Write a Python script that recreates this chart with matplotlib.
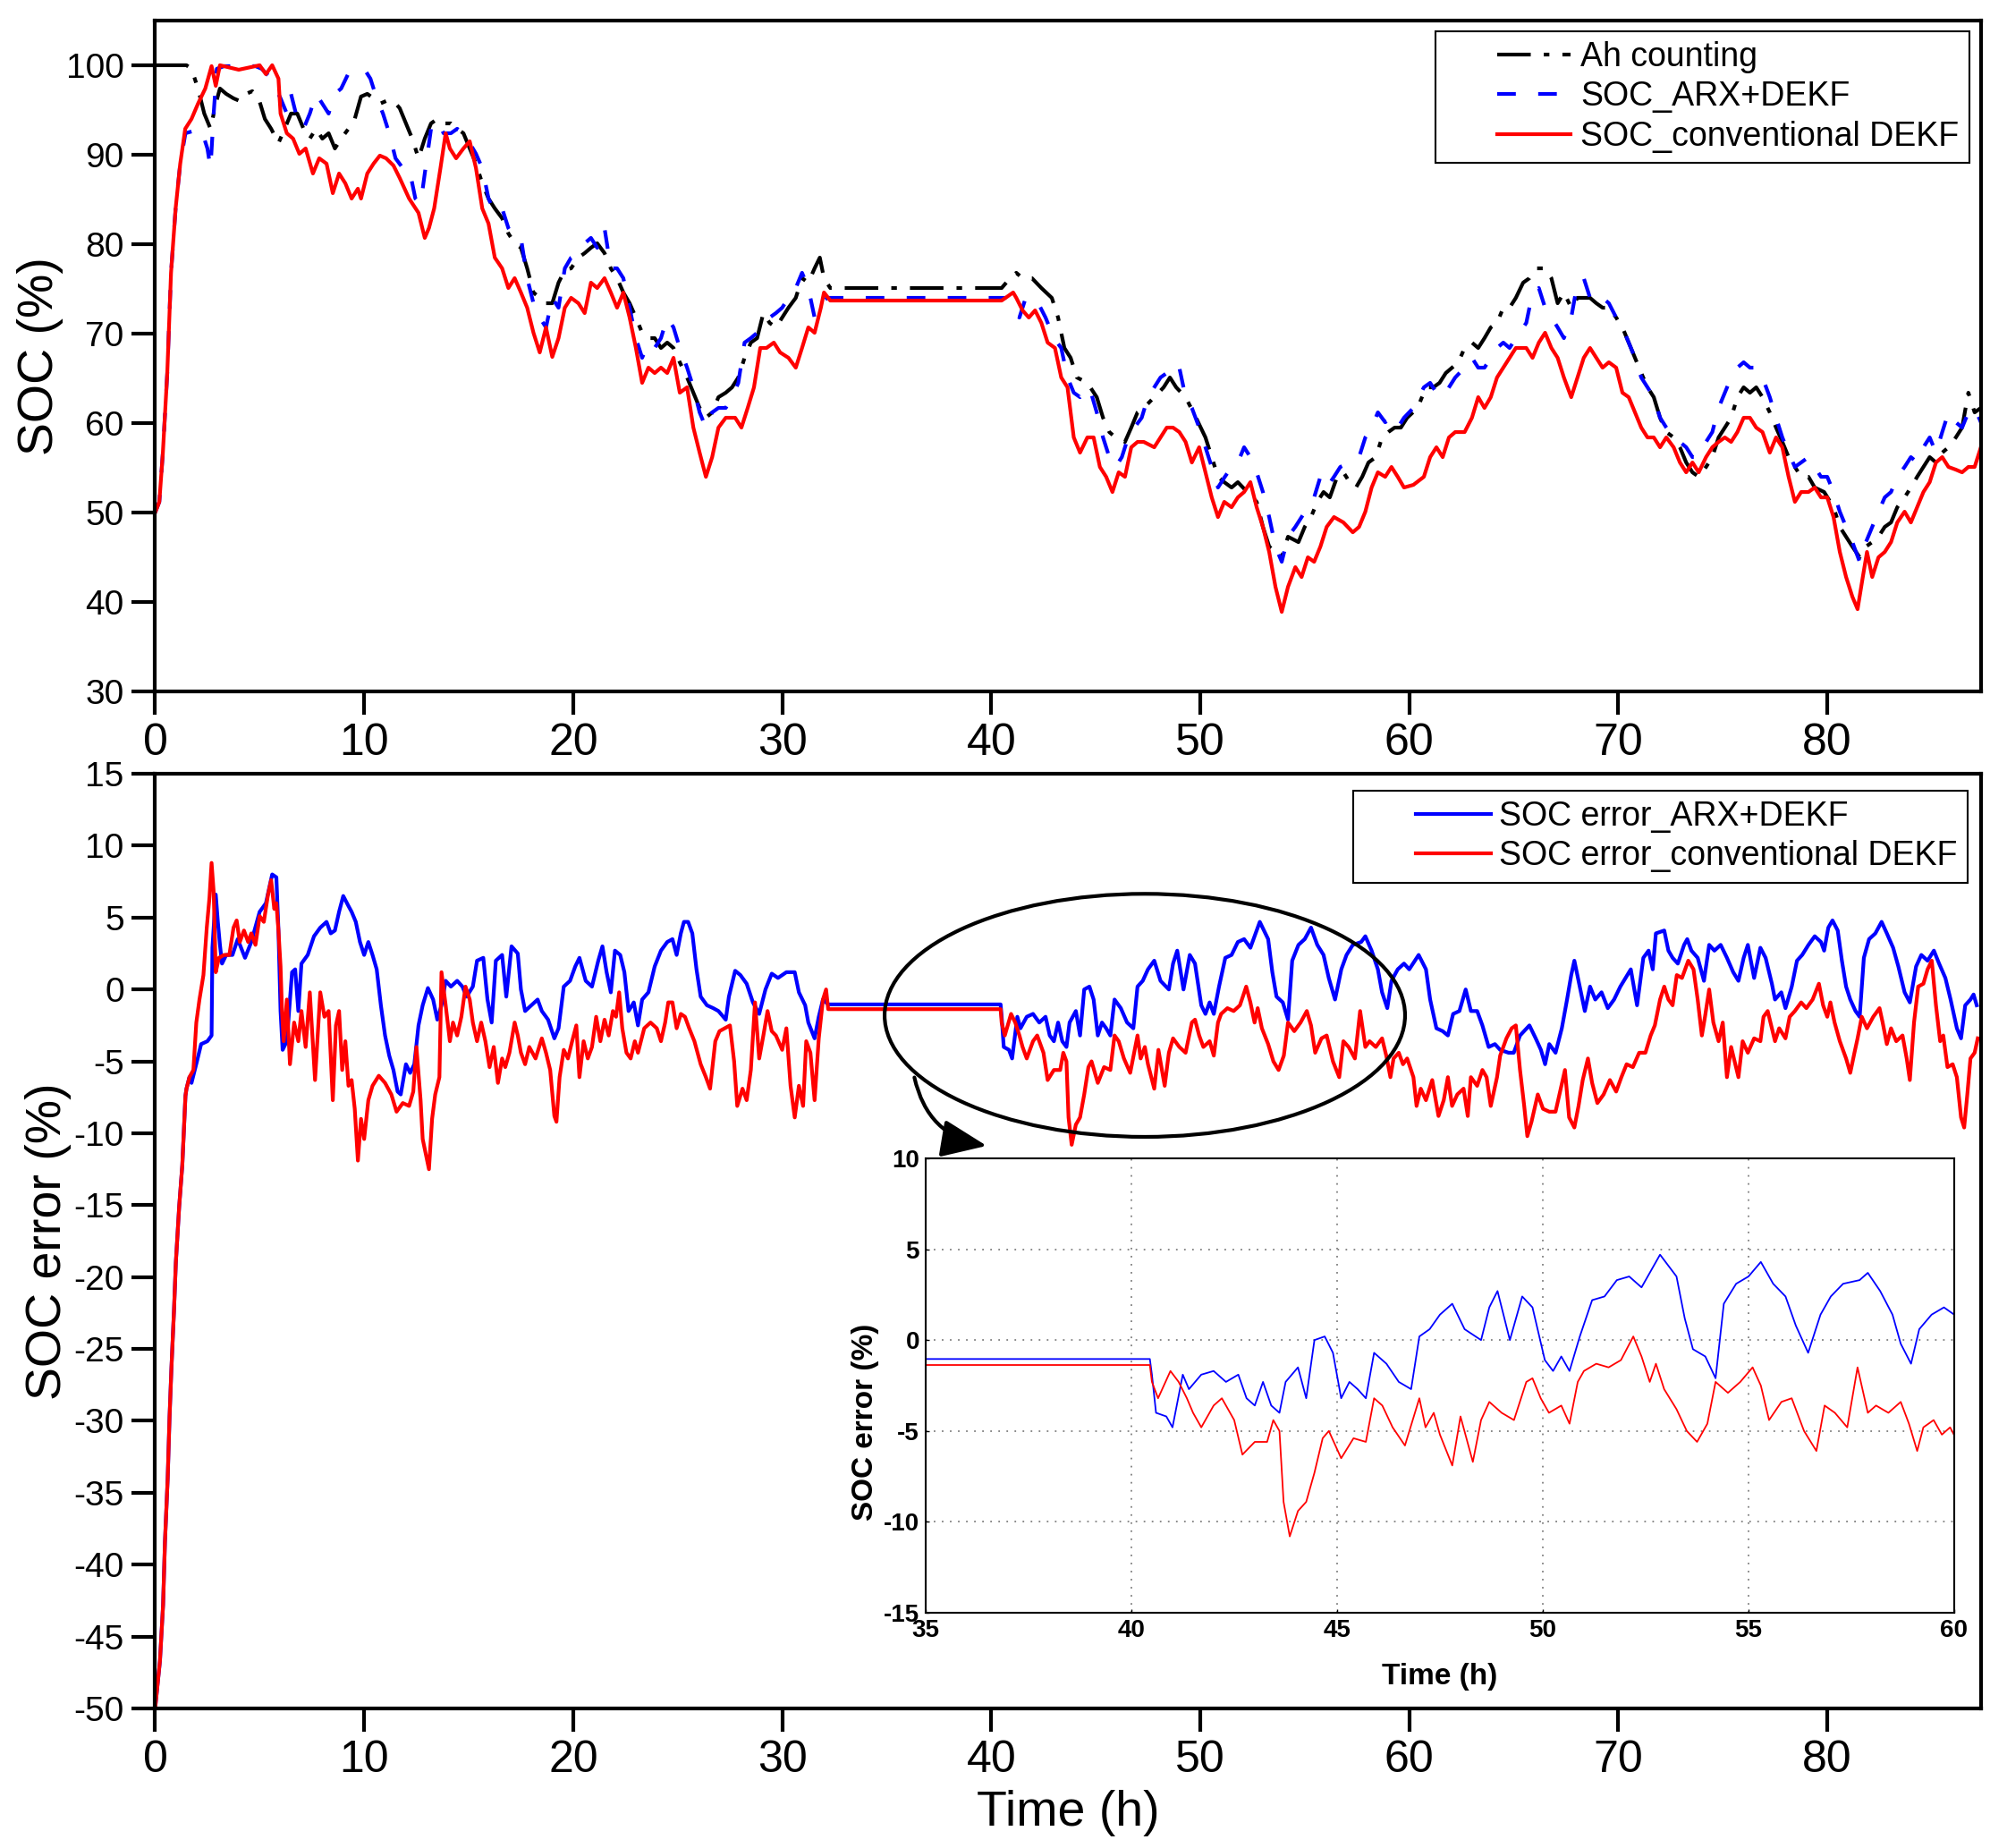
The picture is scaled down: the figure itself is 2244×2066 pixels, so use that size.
import numpy as np
import matplotlib
matplotlib.use("Agg")
import matplotlib.pyplot as plt
from matplotlib.patches import Ellipse, FancyArrowPatch
from matplotlib.legend_handler import HandlerLine2D

plt.rcParams['font.family'] = ['Liberation Sans', 'DejaVu Sans']
plt.rcParams['axes.unicode_minus'] = False

# ---- top panel: SOC (%) ----
ah_t = [0, 1.5, 1.74, 2.05, 2.35, 2.65, 2.9, 3.1, 3.4, 3.75, 4.05, 4.35, 4.65, 4.95, 5.25, 5.55, 5.9,
        6.2, 6.5, 6.8, 7.1, 7.4, 7.7, 8.0, 8.3, 8.6, 8.9, 9.25, 9.55, 9.85, 10.15, 10.45, 10.75, 11.05,
        11.4, 11.7, 12.0, 12.3, 12.6, 12.9, 13.2, 13.5, 13.8, 14.15, 14.45, 14.75, 15.05, 15.35, 15.65,
        15.95, 16.25, 16.6, 16.9, 17.2, 17.5, 17.8, 18.1, 18.4, 18.7, 19.0, 19.3, 19.6, 19.9, 20.25,
        20.55, 20.85, 21.15, 21.5, 21.8, 22.1, 22.4, 22.7, 23.0, 23.3, 23.6, 23.9, 24.2, 24.5, 24.8,
        25.1, 25.45, 25.75, 26.05, 26.35, 26.65, 26.95, 27.3, 27.6, 27.9, 28.2, 28.5, 28.8, 29.1, 29.4,
        29.7, 30.0, 30.3, 30.65, 30.95, 31.25, 31.55, 31.8, 32.0, 32.3, 40.5, 40.9, 41.2, 41.5, 41.95,
        42.4, 42.9, 43.2, 43.5, 43.8, 44.1, 44.6, 45.05, 45.35, 45.65, 45.95, 46.4, 46.7, 47.0, 47.3,
        47.8, 48.25, 48.55, 48.85, 49.3, 49.8, 50.25, 50.55, 50.85, 51.15, 51.5, 51.8, 52.25, 52.7,
        53.0, 53.3, 53.6, 53.9, 54.2, 54.7, 55.0, 55.3, 55.6, 55.9, 56.2, 56.55, 56.85, 57.15, 57.45,
        57.75, 58.05, 58.4, 58.7, 59.0, 59.3, 59.6, 59.9, 60.4, 60.8, 61.15, 61.45, 61.75, 62.05, 62.35,
        62.65, 63.0, 63.3, 63.6, 63.9, 64.2, 64.5, 64.8, 65.1, 65.45, 65.75, 66.05, 66.5, 66.8, 67.1,
        67.4, 67.75, 68.05, 68.35, 68.65, 68.95, 69.25, 69.55, 69.9, 70.2, 70.5, 70.8, 71.1, 71.4, 71.7,
        72.0, 72.3, 72.65, 72.95, 73.25, 73.55, 73.85, 74.2, 74.5, 74.8, 75.1, 75.4, 75.7, 76.0, 76.3,
        76.6, 76.9, 77.25, 77.55, 77.85, 78.15, 78.45, 78.75, 79.1, 79.4, 79.85, 80.3, 80.6, 80.9, 81.2,
        81.55, 81.85, 82.15, 82.45, 82.75, 83.05, 83.35, 83.7, 84.0, 84.3, 84.6, 84.9, 85.2, 85.5, 85.8,
        86.15, 86.45, 86.75, 87.05, 87.35]
ah_v = [100, 100, 99.6, 97.4, 94.6, 92.9, 95.7, 97.4, 96.8, 96.3, 96.0, 96.8, 97.1, 96.3, 94.0, 92.9, 91.3,
        92.9, 94.6, 94.6, 92.9, 91.8, 92.9, 91.8, 92.4, 90.7, 91.8, 92.9, 94.0, 96.5, 96.8, 96.3, 95.7, 96.0,
        96.0, 95.2, 93.5, 91.8, 89.6, 91.8, 93.5, 94.0, 93.5, 93.5, 92.9, 92.4, 90.7, 89.0, 86.8,
        85.1, 84.0, 82.9, 81.2, 80.1, 79.6, 77.3, 74.6, 74.0, 73.4, 73.4, 75.7, 77.1, 77.3, 78.5,
        79.0, 79.6, 80.1, 79.0, 77.3, 76.2, 74.6, 73.4, 71.8, 70.1, 69.5, 69.5, 68.4, 69.0, 68.4,
        66.8, 65.1, 63.4, 61.7, 60.6, 61.2, 62.9, 63.4, 64.0, 65.1, 67.3, 69.0, 69.5, 72.3, 71.2,
        70.7, 71.8, 72.9, 74.0, 76.2, 75.7, 77.3, 78.5, 76.2, 75.1, 75.1, 76.2, 76.8, 76.2, 76.2,
        75.1, 74.0, 71.8, 68.4, 67.3, 65.1, 64.5, 62.9, 60.6, 59.0, 58.4, 57.9, 59.5, 61.2, 61.7,
        62.9, 64.0, 65.1, 64.0, 62.9, 60.6, 58.4, 56.2, 54.0, 53.4, 52.8, 53.4, 52.3, 51.2,
        48.4, 46.2, 45.6, 45.0, 47.3, 46.7, 48.4, 49.5, 51.2, 52.3, 51.7, 54.0, 54.5, 53.4, 52.8,
        54.0, 55.6, 56.2, 58.4, 59.0, 59.5, 59.5, 60.6, 61.7, 64.0, 64.0, 64.5, 65.6, 66.2, 66.8,
        68.4, 69.0, 68.4, 69.5, 70.7, 71.2, 72.9, 72.9, 74.0, 75.7, 76.2, 77.3, 77.3, 76.2, 73.4,
        74.6, 72.9, 74.0, 74.0, 74.0, 73.4, 72.9, 72.9, 71.8, 70.7, 69.0, 67.3, 65.6, 64.0, 62.9,
        60.6, 59.0, 58.4, 57.3, 55.6, 54.5, 54.0, 55.1, 56.2, 58.4, 59.5, 60.6, 62.9, 64.0, 63.4,
        64.0, 62.9, 61.2, 59.5, 57.9, 56.2, 55.1, 54.0, 54.0, 52.8, 52.3, 50.6, 48.4, 47.3, 46.2,
        45.0, 46.2, 46.7, 47.3, 48.4, 48.9, 50.6, 51.7, 52.8, 54.0, 55.1, 56.2, 55.6, 56.7, 57.3,
        58.4, 59.5, 63.4, 61.2, 61.7]

arx_t = [0, 0.2, 0.37, 0.58, 0.76, 0.98, 1.2, 1.45, 1.75, 2.2, 2.5, 2.65, 2.8, 2.95, 3.3, 3.9, 4.35, 4.8,
         5.1, 5.55, 6.0, 6.3, 6.5, 6.8, 7.1, 7.4, 7.7, 8.0, 8.3, 8.6, 8.9, 9.25, 9.55, 10.0, 10.3, 10.6,
         10.9, 11.2, 11.5, 11.85, 12.15, 12.45, 12.7, 12.9, 13.2, 13.5, 13.8, 14.15, 14.45, 14.75, 15.05,
         15.35, 15.65, 15.95, 16.25, 16.6, 16.9, 17.2, 17.5, 17.8, 18.1, 18.4, 18.7, 19.0, 19.3, 19.6,
         19.9, 20.25, 20.55, 20.85, 21.15, 21.5, 21.8, 22.1, 22.4, 22.7, 23.0, 23.3, 23.6, 23.9, 24.2,
         24.5, 24.8, 25.1, 25.45, 25.75, 26.05, 26.35, 26.65, 26.95, 27.3, 27.6, 27.9, 28.2, 28.5, 28.8,
         29.1, 29.4, 29.7, 30.0, 30.3, 30.65, 30.95, 31.25, 31.55, 31.85, 32.15, 40.5, 40.75, 41.05,
         41.35, 41.65, 41.95, 42.25, 42.6, 43.0, 43.35, 43.65, 43.95, 44.25, 44.7, 45.05, 45.35, 45.65,
         45.95, 46.25, 46.55, 46.85, 47.2, 47.5, 47.8, 48.1, 48.4, 48.7, 49.0, 49.3, 49.6, 49.95, 50.25,
         50.55, 50.85, 51.15, 51.5, 51.8, 52.1, 52.4, 52.7, 53.0, 53.3, 53.6, 53.9, 54.2, 54.55, 54.85,
         55.15, 55.45, 55.75, 56.05, 56.4, 56.7, 57.15, 57.6, 57.9, 58.2, 58.5, 58.85, 59.15, 59.45,
         59.75, 60.2, 60.7, 61.0, 61.3, 61.6, 61.9, 62.2, 62.65, 63.0, 63.3, 63.6, 63.9, 64.2, 64.5,
         64.8, 65.1, 65.6, 65.9, 66.2, 66.5, 66.8, 67.1, 67.4, 67.75, 68.05, 68.35, 68.65, 68.95, 69.25,
         69.55, 69.9, 70.2, 70.5, 70.8, 71.1, 71.4, 71.7, 72.0, 72.3, 72.65, 72.95, 73.25, 73.55, 73.85,
         74.2, 74.5, 74.8, 75.1, 75.4, 75.7, 76.0, 76.3, 76.6, 76.9, 77.25, 77.55, 77.85, 78.15, 78.45,
         78.75, 79.1, 79.4, 79.7, 80.0, 80.3, 80.6, 80.9, 81.2, 81.55, 81.85, 82.15, 82.45, 82.75, 83.05,
         83.35, 83.7, 84.0, 84.3, 84.6, 84.9, 85.2, 85.5, 85.8, 86.15, 86.45, 86.75, 87.05, 87.35]
arx_v = [50, 51.2, 56.7, 65.6, 76.8, 84.0, 89.0, 92.4, 92.6, 92.9, 90.7, 88.5, 94.6, 99.6, 99.9, 99.9, 99.9, 99.9,
         99.6, 98.5, 96.3, 94.6, 96.8, 94.0, 92.9, 94.6, 96.8, 95.7, 94.6, 96.8, 97.4, 99.1, 99.3, 99.6, 98.5, 96.3,
         94.6, 92.4, 89.6, 88.5, 88.5, 85.1, 84.5, 87.9, 92.9, 93.8, 92.4, 92.4, 92.9, 92.4, 91.3,
         90.1, 88.5, 85.1, 83.5, 84.0, 81.8, 80.7, 80.7, 76.2, 73.4, 71.8, 70.7, 74.0, 72.9, 77.3,
         78.5, 79.0, 80.1, 80.7, 79.6, 81.8, 77.3, 77.3, 76.2, 72.9, 69.5, 67.3, 69.0, 68.4, 69.5,
         71.8, 70.7, 68.4, 66.2, 64.0, 61.2, 59.5, 61.2, 61.7, 61.7, 62.9, 64.5, 69.0, 69.5, 70.1,
         71.2, 71.8, 72.3, 72.9, 74.0, 75.1, 76.8, 75.1, 71.8, 73.4, 74.0, 74.0, 74.0, 72.3,
         71.8, 74.0, 74.0, 73.4, 71.8, 69.5, 68.4, 65.1, 63.4, 62.9, 64.0, 61.2, 58.4, 56.2,
         55.1, 56.2, 58.4, 59.5, 60.6, 62.9, 64.0, 65.1, 65.6, 65.1, 66.2, 62.9, 61.7, 59.5, 57.3,
         55.1, 52.8, 53.9, 55.1, 55.6, 57.3, 56.2, 54.5, 52.3, 49.5, 46.2, 44.5, 47.3, 48.4, 49.5,
         50.6, 51.7, 54.0, 52.8, 54.0, 55.1, 55.6, 56.2, 58.4, 59.5, 61.2, 60.1, 60.6, 59.5,
         60.6, 61.7, 64.0, 64.5, 63.4, 62.9, 64.0, 65.1, 66.2, 67.3, 66.2, 66.2, 67.3, 68.4, 69.0,
         68.4, 69.5, 71.2, 74.6, 75.1, 72.9, 71.8, 70.7, 69.5, 71.8, 75.7, 76.2, 74.0, 73.4, 74.0,
         73.4, 71.8, 70.7, 69.0, 67.3, 65.1, 64.0, 62.9, 60.6, 59.5, 58.4, 57.9, 57.3, 56.2, 56.2,
         57.9, 59.0, 61.7, 63.4, 65.1, 66.2, 66.8, 66.2, 66.2, 65.1, 62.9, 60.6, 58.4, 56.7, 55.1,
         55.6, 56.2, 55.1, 54.0, 54.0, 52.3, 50.1, 48.4, 46.7, 44.5, 46.7, 48.4, 50.1, 51.7, 52.3,
         54.0, 55.1, 56.2, 55.6, 57.3, 58.4, 56.7, 59.0, 61.2, 60.1, 59.5, 61.2, 61.7, 60.1]

conv_t = [0, 0.2, 0.37, 0.58, 0.76, 0.98, 1.2, 1.44, 1.74, 2.05, 2.4, 2.7, 2.9, 3.1, 4.0, 5.0, 5.3, 5.6,
          5.9, 6.0, 6.3, 6.6, 6.9, 7.2, 7.55, 7.85, 8.2, 8.5, 8.8, 9.1, 9.4, 9.7, 9.85, 10.15, 10.45,
          10.75, 11.05, 11.4, 11.7, 12.15, 12.6, 12.9, 13.1, 13.35, 13.65, 13.9, 14.1, 14.4, 14.75, 15.05,
          15.35, 15.65, 15.95, 16.25, 16.6, 16.9, 17.2, 17.5, 17.8, 18.1, 18.4, 18.7, 19.0, 19.3, 19.6,
          19.9, 20.25, 20.55, 20.85, 21.15, 21.5, 21.8, 22.1, 22.4, 22.7, 23.0, 23.3, 23.6, 23.9, 24.2,
          24.5, 24.8, 25.1, 25.45, 25.75, 26.05, 26.35, 26.65, 26.95, 27.3, 27.75, 28.05, 28.35, 28.65,
          28.95, 29.25, 29.6, 29.9, 30.3, 30.65, 30.95, 31.25, 31.55, 31.85, 32.0, 32.3, 40.5, 41.05,
          41.2, 41.5, 41.8, 42.1, 42.4, 42.7, 43.05, 43.35, 43.65, 43.95, 44.25, 44.6, 44.9, 45.2, 45.5,
          45.8, 46.1, 46.4, 46.7, 47.0, 47.3, 47.8, 48.1, 48.4, 48.7, 49.0, 49.3, 49.6, 49.95, 50.25,
          50.55, 50.85, 51.15, 51.5, 51.8, 52.1, 52.4, 52.7, 53.0, 53.3, 53.6, 53.9, 54.2, 54.55, 54.85,
          55.15, 55.45, 55.75, 56.05, 56.4, 56.85, 57.3, 57.6, 57.9, 58.2, 58.5, 58.85, 59.15, 59.45,
          59.75, 60.2, 60.7, 61.0, 61.3, 61.6, 61.9, 62.2, 62.65, 63.0, 63.3, 63.6, 63.9, 64.2, 64.5,
          64.8, 65.1, 65.6, 65.9, 66.2, 66.5, 66.8, 67.1, 67.4, 67.75, 68.05, 68.35, 68.65, 68.95, 69.25,
          69.55, 69.9, 70.2, 70.5, 70.8, 71.1, 71.4, 71.7, 72.0, 72.3, 72.65, 72.95, 73.25, 73.55, 73.85,
          74.2, 74.5, 74.8, 75.1, 75.4, 75.7, 76.0, 76.3, 76.6, 76.9, 77.25, 77.55, 77.85, 78.15, 78.45,
          78.75, 79.1, 79.4, 79.7, 80.0, 80.3, 80.6, 80.9, 81.2, 81.45, 81.7, 81.9, 82.15, 82.45, 82.75,
          83.05, 83.35, 83.7, 84.0, 84.3, 84.6, 84.9, 85.2, 85.5, 85.8, 86.15, 86.45, 86.75, 87.05, 87.35]
conv_v = [50, 51.2, 56.7, 65.6, 76.8, 84.0, 89.0, 92.9, 94.0, 95.7, 97.4, 99.9, 97.7, 100, 99.5, 100, 99.0, 100,
          98.5, 94.6, 92.4, 91.8, 90.1, 90.7, 87.9, 89.6, 89.0, 85.7, 87.9, 86.8, 85.1, 86.2, 85.1, 87.9, 89.0,
          89.9, 89.6, 88.8, 87.4, 85.1, 83.5, 80.7, 81.8, 84.0, 88.5, 92.4, 90.7, 89.6, 90.7, 91.5,
          88.5, 84.0, 82.3, 78.5, 77.3, 75.1, 76.2, 74.6, 72.9, 70.1, 67.9, 70.7, 67.4, 69.5, 72.9,
          74.0, 73.4, 72.3, 75.7, 75.1, 76.2, 74.6, 72.9, 74.6, 71.8, 68.4, 64.5, 66.2, 65.6, 66.2,
          65.6, 67.3, 63.4, 64.0, 59.5, 56.7, 54.0, 56.2, 59.5, 60.6, 60.6, 59.5, 61.7, 64.0,
          68.4, 68.4, 69.0, 67.9, 67.3, 66.2, 68.4, 70.7, 70.1, 72.9, 74.6, 73.7, 73.7, 74.6,
          74.0, 72.6, 71.8, 72.6, 71.2, 69.0, 68.4, 65.1, 64.0, 58.4, 56.7, 58.4, 58.4, 55.1, 54.0,
          52.3, 54.5, 54.0, 57.3, 57.9, 57.9, 57.3, 58.4, 59.5, 59.5, 59.0, 57.9, 55.6, 57.3, 54.5,
          51.7, 49.5, 51.2, 50.6, 51.7, 52.3, 53.4, 50.6, 48.4, 45.6, 41.7, 38.9, 41.7, 43.9, 42.8,
          45.0, 44.5, 46.2, 48.4, 49.5, 48.9, 47.8, 48.4, 50.1, 52.8, 54.5, 54.0, 55.1, 54.0,
          52.8, 53.1, 54.0, 56.2, 57.3, 56.2, 58.4, 59.0, 59.0, 60.6, 62.9, 61.7, 62.9, 65.1, 66.2,
          67.3, 68.4, 68.4, 67.3, 69.0, 70.1, 68.4, 67.3, 65.1, 62.9, 65.1, 67.3, 68.4, 67.3, 66.2,
          66.8, 66.2, 63.4, 62.9, 61.2, 59.5, 58.4, 58.4, 57.3, 58.4, 57.3, 55.6, 54.5, 55.6, 54.5,
          56.2, 57.3, 57.9, 58.4, 57.9, 59.0, 60.6, 60.6, 59.5, 59.0, 56.7, 58.4, 57.3, 54.0, 51.2,
          52.3, 52.3, 52.8, 51.7, 51.7, 49.5, 45.6, 42.8, 40.6, 39.2, 42.8, 45.6, 42.8, 45.0, 45.6,
          46.7, 48.9, 50.1, 48.9, 50.6, 52.3, 53.4, 55.6, 56.2, 55.1, 54.8, 54.5, 55.1, 55.1, 57.3]

# ---- bottom panel: SOC error (%) ----
err_start_t = [0, 0.23, 0.38, 0.47, 0.6, 0.69, 0.78, 0.9, 0.99, 1.15, 1.3, 1.45, 1.5, 1.64]
err_start_v = [-50, -46.7, -42.8, -38.4, -34.0, -29.7, -26.3, -22.4, -19.0, -15.1, -12.2, -7.4, -6.9, -6.1]

arx_err_t = err_start_t + [
    1.74, 2.0, 2.2, 2.5, 2.7, 2.74, 2.9, 3.0, 3.1, 3.2, 3.4, 3.7, 3.95, 4.3, 4.6, 5.0, 5.3, 5.6, 5.8, 5.9,
    6.0, 6.1, 6.3, 6.55, 6.7, 6.85, 7.0, 7.3, 7.6, 7.9, 8.2, 8.4, 8.6, 8.8, 9.0, 9.25, 9.4, 9.6, 9.8,
    10.0, 10.2, 10.4, 10.6, 10.8, 11.0, 11.2, 11.4, 11.6, 11.75, 12.0, 12.2, 12.4, 12.6, 12.8, 13.05,
    13.3, 13.5, 13.7, 13.9, 14.15, 14.45, 14.7, 14.9, 15.2, 15.4, 15.7, 15.9, 16.1, 16.3, 16.6, 16.8,
    17.05, 17.35, 17.5, 17.7, 18.0, 18.3, 18.5, 18.8, 19.1, 19.3, 19.55, 19.85, 20.1, 20.3, 20.6, 20.9,
    21.2, 21.4, 21.6, 21.8, 22.0, 22.25, 22.45, 22.65, 22.9, 23.1, 23.3, 23.6, 23.9, 24.2, 24.5, 24.75,
    24.95, 25.15, 25.3, 25.5, 25.7, 25.9, 26.1, 26.4, 26.7, 26.95, 27.3, 27.45, 27.75, 28.0, 28.3,
    28.6, 28.9, 29.2, 29.5, 29.8, 30.2, 30.6, 30.8, 31.1, 31.25, 31.55, 31.75, 31.95, 32.2, 40.45,
    40.5, 40.6, 40.85, 41.0, 41.25, 41.4, 41.7, 42.0, 42.3, 42.6, 42.8, 43.0, 43.2, 43.4, 43.6, 43.75,
    44.05, 44.25, 44.45, 44.7, 44.9, 45.1, 45.3, 45.5, 45.7, 45.9, 46.2, 46.5, 46.8, 47.0, 47.25, 47.5,
    47.8, 48.1, 48.5, 48.7, 48.9, 49.2, 49.5, 49.75, 50.05, 50.25, 50.45, 50.65, 50.9, 51.2, 51.5,
    51.8, 52.1, 52.4, 52.7, 52.85, 53.05, 53.25, 53.45, 53.65, 53.95, 54.2, 54.4, 54.7, 55.0, 55.3,
    55.6, 55.9, 56.15, 56.45, 56.75, 57.0, 57.3, 57.7, 57.9, 58.2, 58.5, 58.7, 58.95, 59.15, 59.45,
    59.75, 60.0, 60.45, 60.8, 61.0, 61.3, 61.6, 61.85, 62.1, 62.4, 62.7, 62.95, 63.25, 63.5, 63.8,
    64.1, 64.35, 64.75, 65.0, 65.3, 65.75, 66.05, 66.3, 66.5, 66.7, 67.0, 67.3, 67.55, 67.75, 67.9,
    68.1, 68.4, 68.65, 68.9, 69.2, 69.5, 69.8, 70.1, 70.35, 70.6, 70.9, 71.2, 71.45, 71.65, 71.8,
    72.2, 72.4, 72.6, 72.85, 73.15, 73.3, 73.5, 73.8, 74.1, 74.35, 74.6, 74.9, 75.2, 75.5, 75.75,
    76.0, 76.2, 76.5, 76.8, 77.05, 77.35, 77.5, 77.8, 78.0, 78.3, 78.55, 78.8, 79.1, 79.4, 79.7,
    79.85, 80.05, 80.25, 80.5, 80.7, 80.9, 81.1, 81.35, 81.55, 81.75, 82.0, 82.3, 82.6, 82.85, 83.15,
    83.4, 83.7, 83.95, 84.25, 84.5, 84.8, 85.1, 85.35, 85.65, 85.9, 86.2, 86.4, 86.6, 86.85, 87.0,
    87.15]
arx_err_v = err_start_v + [
    -6.5, -5.0, -3.8, -3.6, -3.2, 2.9, 6.6, 4.7, 3.1, 1.8, 2.4, 2.4, 3.5, 2.2, 3.3, 5.4, 6.0, 8.0, 7.8, 4.1,
    -1.5, -4.2, -3.6, 1.2, 1.4, -1.5, 1.8, 2.4, 3.7, 4.3, 4.7, 3.9, 4.1, 5.4, 6.5, 5.8, 5.4, 4.7, 3.3,
    2.4, 3.3, 2.4, 1.4, -1.1, -3.2, -4.6, -5.6, -7.1, -7.3, -5.2, -5.8, -5.2, -2.5, -1.1, 0.1,
    -0.7, -2.1, -1.1, 0.6, 0.2, 0.6, 0.2, -0.5, 0.2, 2.0, 2.2, -0.7, -2.3, 2.0, 2.4, -0.5,
    3.0, 2.5, 0.0, -1.5, -1.1, -0.7, -1.5, -2.1, -3.4, -2.7, 0.2, 0.6, 1.6, 2.2, 0.6, 0.2,
    2.0, 3.0, 1.2, -0.2, 2.7, 2.4, 1.2, -1.5, -0.9, -2.5, -0.7, -0.2, 1.6, 2.7, 3.3, 3.5,
    2.4, 3.9, 4.7, 4.7, 3.9, 1.4, -0.5, -1.1, -1.3, -1.5, -2.1, -0.5, 1.3, 1.0, 0.4,
    -0.9, -1.7, 0.0, 1.1, 0.8, 1.2, 1.2, -0.2, -1.1, -2.3, -3.4, -1.9, -0.7, -1.04, -1.04,
    -1.9, -4.0, -4.2, -4.8, -1.9, -2.7, -1.9, -1.7, -2.3, -1.9, -3.2, -3.6, -2.3, -3.6, -4.0, -2.3,
    -1.5, -3.2, 0.0, 0.2, -0.7, -3.2, -2.3, -2.7, -3.2, -0.7, -1.3, -2.3, -2.7, 0.2, 0.6, 1.4,
    2.0, 0.6, 0.0, 1.8, 2.7, 0.0, 2.4, 1.8, -1.1, -1.7, -0.9, -1.7, 0.2, 2.2, 2.4,
    3.3, 3.5, 2.9, 4.1, 4.7, 4.1, 3.5, 1.2, -0.5, -0.9, -2.1, 2.0, 3.1, 3.5, 4.3,
    3.1, 2.4, 0.8, -0.7, 1.4, 2.4, 3.1, 3.3, 3.7, 2.7, 1.4, -0.2, -1.3, 0.6, 1.4,
    1.8, 1.4, 2.4, 1.4, -0.7, -2.7, -2.9, -3.2, -1.7, -1.5, 0.0, -1.5, -1.5, -2.5, -4.0,
    -3.8, -4.2, -4.4, -4.4, -3.2, -2.5, -3.4, -4.2, -5.2, -3.8, -4.4, -2.7, -0.7, 1.0, 2.0,
    0.6, -1.5, 0.2, -0.7, -0.2, -1.3, -0.7, 0.2, 0.8, 1.4, -1.1, 2.2, 2.7, 1.4, 3.9,
    4.1, 2.7, 2.2, 1.8, 3.1, 3.5, 2.7, 2.2, 0.6, 3.1, 2.7, 3.1, 2.2, 1.2, 0.6,
    2.2, 3.1, 0.8, 2.9, 2.2, 0.4, -0.7, -0.2, -1.3, 0.2, 2.0, 2.4, 3.1, 3.7, 3.3,
    2.7, 4.3, 4.8, 4.1, 2.0, 0.2, -0.7, -1.5, -1.9, 2.2, 3.5, 3.9, 4.7, 3.9, 2.9,
    1.6, -0.2, -0.9, 1.6, 2.4, 2.0, 2.7, 1.8, 0.8, -0.7, -2.7, -3.4, -1.1, -0.7, -0.35,
    -1.1]

conv_err_t = err_start_t + [
    1.83, 1.97, 2.12, 2.31, 2.47, 2.6, 2.7, 2.8, 2.9, 3.05, 3.3, 3.55, 3.75, 3.9, 4.05, 4.25, 4.45, 4.6,
    4.8, 5.0, 5.2, 5.4, 5.55, 5.7, 5.8, 5.9, 6.0, 6.07, 6.15, 6.3, 6.45, 6.65, 6.85, 7.0, 7.2, 7.4,
    7.65, 7.9, 8.1, 8.3, 8.5, 8.65, 8.8, 8.95, 9.1, 9.25, 9.4, 9.55, 9.7, 9.85, 10.0, 10.2, 10.4, 10.7,
    11.0, 11.3, 11.55, 11.85, 12.15, 12.35, 12.5, 12.7, 12.8, 13.1, 13.25, 13.4, 13.6, 13.7, 13.9,
    14.1, 14.25, 14.45, 14.65, 14.85, 15.05, 15.2, 15.4, 15.6, 15.8, 16.0, 16.2, 16.4, 16.6, 16.75,
    16.95, 17.2, 17.35, 17.5, 17.7, 17.9, 18.2, 18.5, 18.7, 18.9, 19.1, 19.2, 19.35, 19.55, 19.75,
    19.95, 20.15, 20.3, 20.5, 20.7, 20.9, 21.1, 21.3, 21.5, 21.7, 21.9, 22.05, 22.2, 22.35, 22.55,
    22.75, 22.95, 23.1, 23.4, 23.7, 24.0, 24.2, 24.4, 24.55, 24.75, 24.95, 25.15, 25.35, 25.55, 25.8,
    26.1, 26.35, 26.55, 26.8, 27.0, 27.25, 27.5, 27.7, 27.85, 28.1, 28.3, 28.5, 28.7, 28.9, 29.1,
    29.3, 29.5, 29.7, 30.0, 30.2, 30.4, 30.6, 30.8, 31.0, 31.15, 31.35, 31.55, 31.75, 31.95, 32.1,
    32.2, 40.45, 40.5, 40.65, 40.95, 41.15, 41.35, 41.5, 41.7, 42.0, 42.2, 42.5, 42.7, 43.0, 43.3,
    43.45, 43.6, 43.7, 43.85, 44.05, 44.25, 44.45, 44.65, 44.8, 45.1, 45.4, 45.7, 45.9, 46.1, 46.35,
    46.65, 47.0, 47.15, 47.35, 47.5, 47.8, 48.0, 48.3, 48.5, 48.7, 49.0, 49.3, 49.6, 49.75, 49.95,
    50.15, 50.45, 50.65, 50.85, 51.0, 51.3, 51.6, 51.9, 52.2, 52.4, 52.6, 52.75, 52.95, 53.25, 53.5,
    53.75, 54.0, 54.2, 54.5, 54.8, 55.1, 55.3, 55.5, 55.8, 56.05, 56.35, 56.65, 56.85, 57.1, 57.4,
    57.65, 57.9, 58.1, 58.4, 58.7, 58.9, 59.1, 59.25, 59.5, 59.7, 59.9, 60.2, 60.35, 60.55, 60.8,
    61.1, 61.4, 61.65, 61.85, 62.05, 62.3, 62.6, 62.8, 62.95, 63.25, 63.5, 63.7, 63.9, 64.2, 64.35,
    64.65, 64.9, 65.1, 65.3, 65.5, 65.65, 65.85, 66.15, 66.4, 66.7, 67.0, 67.25, 67.45, 67.65, 67.9,
    68.1, 68.3, 68.55, 68.75, 69.0, 69.3, 69.6, 69.9, 70.15, 70.4, 70.7, 71.0, 71.3, 71.55, 71.75,
    72.0, 72.2, 72.4, 72.6, 72.8, 73.05, 73.35, 73.6, 73.8, 74.0, 74.15, 74.35, 74.55, 74.8, 75.0,
    75.2, 75.4, 75.6, 75.75, 75.95, 76.2, 76.5, 76.8, 76.95, 77.15, 77.35, 77.5, 77.7, 78.0, 78.2,
    78.45, 78.75, 79.0, 79.3, 79.6, 79.8, 80.0, 80.15, 80.35, 80.6, 80.9, 81.1, 81.3, 81.45, 81.65,
    81.9, 82.2, 82.5, 82.65, 82.85, 83.05, 83.3, 83.6, 83.8, 83.95, 84.15, 84.35, 84.6, 84.8, 85.0,
    85.2, 85.4, 85.55, 85.75, 86.0, 86.2, 86.4, 86.55, 86.7, 86.85, 87.05, 87.2]
conv_err_v = err_start_v + [
    -5.6, -2.3, -0.7, 1.0, 4.3, 6.4, 8.8, 6.8, 1.2, 2.2, 2.4, 2.4, 4.3, 4.8, 3.3, 4.1, 3.3, 3.9,
    3.1, 5.1, 4.7, 6.6, 7.6, 5.6, 6.0, 4.1, 1.6, -1.5, -3.6, -0.7, -5.2, -2.3, -3.6, -1.5, -4.0, -0.2,
    -6.3, -0.2, -1.9, -1.5, -7.7, -2.5, -1.5, -5.6, -3.6, -6.7, -6.3, -8.3, -11.9, -9.0, -10.4, -7.7, -6.7, -6.0,
    -6.5, -7.3, -8.5, -7.9, -8.1, -7.1, -4.0, -7.7, -10.4, -12.5, -9.0, -7.3, -6.1, 1.2, -1.1,
    -3.6, -2.3, -3.2, -1.9, 0.2, -0.7, -2.3, -3.6, -2.3, -3.6, -5.4, -4.0, -6.5, -4.8, -5.4,
    -4.4, -2.3, -3.2, -4.4, -5.2, -4.0, -4.8, -3.4, -4.4, -5.6, -8.8, -9.2, -6.1, -4.2, -4.8,
    -3.6, -2.5, -6.1, -3.6, -4.8, -4.0, -1.9, -3.6, -2.1, -3.2, -1.5, -1.9, -0.2, -2.7, -4.4,
    -4.8, -3.6, -4.4, -2.7, -2.3, -2.7, -3.6, -2.3, -0.9, -0.9, -2.7, -1.7, -1.9, -2.7, -3.6,
    -5.2, -6.1, -6.9, -3.6, -2.9, -2.7, -2.5, -5.0, -8.1, -6.9, -7.7, -5.6, -0.9, -4.8, -3.2,
    -1.5, -2.9, -3.2, -4.2, -2.7, -6.7, -8.9, -6.7, -8.1, -3.6, -4.4, -7.7, -3.4, -0.7, 0.0,
    -1.37, -1.37, -2.3, -3.2, -1.7, -2.3, -3.2, -4.0, -4.8, -3.6, -3.2, -4.4, -6.3, -5.6, -5.6,
    -4.4, -5.0, -8.9, -10.8, -9.4, -8.9, -7.3, -5.4, -5.0, -6.5, -5.4, -5.6, -3.2, -3.6, -4.8,
    -5.8, -3.2, -4.8, -4.0, -5.2, -6.9, -4.2, -6.7, -4.4, -3.4, -4.0, -4.4, -2.3, -2.1, -3.2,
    -4.0, -3.6, -4.6, -2.3, -1.7, -1.3, -1.5, -1.1, 0.2, -0.9, -2.3, -1.3, -2.7, -3.8, -5.0,
    -5.6, -4.6, -2.3, -2.9, -2.3, -1.5, -2.5, -4.4, -3.4, -3.2, -5.0, -6.1, -3.6, -4.0, -4.8,
    -1.5, -4.0, -3.6, -4.0, -3.4, -4.6, -6.1, -4.8, -4.4, -5.2, -4.8, -6.1, -8.1, -6.9, -7.7,
    -6.3, -8.8, -7.7, -6.1, -8.1, -7.3, -6.9, -8.8, -6.1, -6.7, -5.6, -6.1, -8.1, -6.1, -4.6,
    -3.4, -2.7, -2.5, -5.6, -8.1, -10.2, -9.2, -7.3, -8.3, -8.5, -8.5, -6.9, -5.6, -8.9, -9.6,
    -8.1, -6.3, -4.8, -6.5, -7.9, -7.3, -6.3, -7.1, -6.1, -5.2, -5.4, -4.4, -4.4, -3.2, -2.5,
    -0.7, 0.2, -0.7, -1.1, 1.0, 0.8, 2.0, 1.4, -0.7, -3.2, -1.9, 0.0, -2.3, -3.6, -2.3,
    -6.1, -4.0, -5.2, -6.1, -3.6, -4.4, -3.4, -3.6, -1.9, -1.5, -2.7, -3.6, -2.7, -3.4, -1.9,
    -1.5, -0.9, -1.3, -0.7, 0.4, -1.1, -1.9, -0.9, -2.3, -3.6, -4.8, -5.8, -4.4, -3.4, -1.9,
    -2.7, -1.9, -1.3, -2.3, -3.8, -2.7, -3.6, -3.2, -4.8, -6.3, -2.3, 0.2, 0.4, 1.4, 2.0,
    -1.1, -3.6, -3.2, -5.4, -5.2, -6.1, -8.9, -9.6, -7.3, -4.8, -4.4, -3.4]

x_ticks = [0, 10, 20, 30, 40, 50, 60, 70, 80]
soc_ticks = [30, 40, 50, 60, 70, 80, 90, 100]
err_ticks = [15, 10, 5, 0, -5, -10, -15, -20, -25, -30, -35, -40, -45, -50]
inset_x_ticks = [35, 40, 45, 50, 55, 60]
inset_y_ticks = [-15, -10, -5, 0, 5, 10]


class ShiftedLine(HandlerLine2D):
    # legend line drawn only on the right part of the handle box
    def get_xdata(self, legend, xdescent, ydescent, width, height, fontsize):
        xd, xm = super().get_xdata(legend, xdescent, ydescent, width, height, fontsize)
        xd = np.linspace(-xdescent + 0.41 * width, -xdescent + width, len(xd))
        return xd, xd


fig = plt.figure(figsize=(22.44, 20.66), dpi=100)
ax1 = fig.add_axes([0.0773, 0.6258, 0.9098, 0.3631])
ax2 = fig.add_axes([0.0773, 0.0755, 0.9098, 0.5058])

# top panel
ax1.plot(ah_t, ah_v, color='black', lw=3, dashes=(9, 3.5, 1.5, 3.5), label='Ah counting')
ax1.plot(arx_t, arx_v, color='blue', lw=3, dashes=(5, 6), label='SOC_ARX+DEKF')
ax1.plot(conv_t, conv_v, color='red', lw=3, label='SOC_conventional DEKF')
ax1.set_xlim(0, 87.36)
ax1.set_ylim(30, 105)
ax1.set_xticks(x_ticks)
ax1.set_yticks(soc_ticks)
ax1.set_ylabel('SOC (%)', fontsize=40)
ax1.yaxis.set_label_coords(-0.05, 0.5)
ax1.tick_params(axis='x', labelsize=36)
ax1.tick_params(axis='y', labelsize=28)
leg1 = ax1.legend(loc='upper right', bbox_to_anchor=(0.9936, 0.984), fontsize=27,
                  fancybox=False, edgecolor='black', framealpha=1, borderaxespad=0,
                  handlelength=3.73, handletextpad=0.3, labelspacing=0.22, borderpad=0.3,
                  handler_map={matplotlib.lines.Line2D: ShiftedLine()})
leg1.get_frame().set_linewidth(1.5)

# bottom panel
ax2.plot(arx_err_t, arx_err_v, color='blue', lw=3, label='SOC error_ARX+DEKF')
ax2.plot(conv_err_t, conv_err_v, color='red', lw=3, label='SOC error_conventional DEKF')
ax2.set_xlim(0, 87.36)
ax2.set_ylim(-50, 15)
ax2.set_xticks(x_ticks)
ax2.set_yticks(err_ticks)
ax2.set_ylabel('SOC error (%)', fontsize=40)
ax2.yaxis.set_label_coords(-0.046, 0.5)
ax2.set_xlabel('Time (h)', fontsize=40)
ax2.xaxis.set_label_coords(0.5, -0.087)
ax2.tick_params(axis='x', labelsize=36)
ax2.tick_params(axis='y', labelsize=28)
leg2 = ax2.legend(loc='upper right', bbox_to_anchor=(0.9927, 0.982), fontsize=27,
                  fancybox=False, edgecolor='black', framealpha=1, borderaxespad=0,
                  handlelength=3.8, handletextpad=0.25, labelspacing=0.22, borderpad=0.3,
                  handler_map={matplotlib.lines.Line2D: ShiftedLine()})
leg2.get_frame().set_linewidth(1.5)

for ax in (ax1, ax2):
    ax.tick_params(direction='out', length=19, width=3, pad=6, top=False, right=False)
    for sp in ax.spines.values():
        sp.set_linewidth(3)

# ellipse and arrow pointing at the zoom
ax2.add_patch(Ellipse((47.35, -1.8), 24.9, 16.9, fill=False, ec='black', lw=3, zorder=5))
ax2.add_patch(FancyArrowPatch((36.3, -5.95), (39.9, -10.9), connectionstyle='arc3,rad=0.35',
                              arrowstyle='-|>,head_length=1.2,head_width=0.5', mutation_scale=26,
                              lw=3, color='black', zorder=5))

# inset
axin = fig.add_axes([0.4612, 0.1273, 0.5125, 0.2459])
axin.plot(arx_err_t, arx_err_v, color='blue', lw=1.3)
axin.plot(conv_err_t, conv_err_v, color='red', lw=1.3)
axin.set_xlim(35, 60)
axin.set_ylim(-15, 10)
axin.set_xticks(inset_x_ticks)
axin.set_yticks(inset_y_ticks)
axin.grid(True, linestyle=(0, (1, 4)), color='gray', lw=1.3)
axin.tick_params(direction='in', length=3, width=1, pad=5)
for lab in axin.get_xticklabels() + axin.get_yticklabels():
    lab.set_fontsize(20)
    lab.set_fontweight('bold')
axin.set_xlabel('Time (h)', fontsize=24, fontweight='bold')
axin.xaxis.set_label_coords(0.5, -0.11)
axin.set_ylabel('SOC error (%)', fontsize=24, fontweight='bold')
axin.yaxis.set_label_coords(-0.045, 0.42)
for sp in axin.spines.values():
    sp.set_linewidth(1.5)

fig.savefig('out.png', dpi=100)
